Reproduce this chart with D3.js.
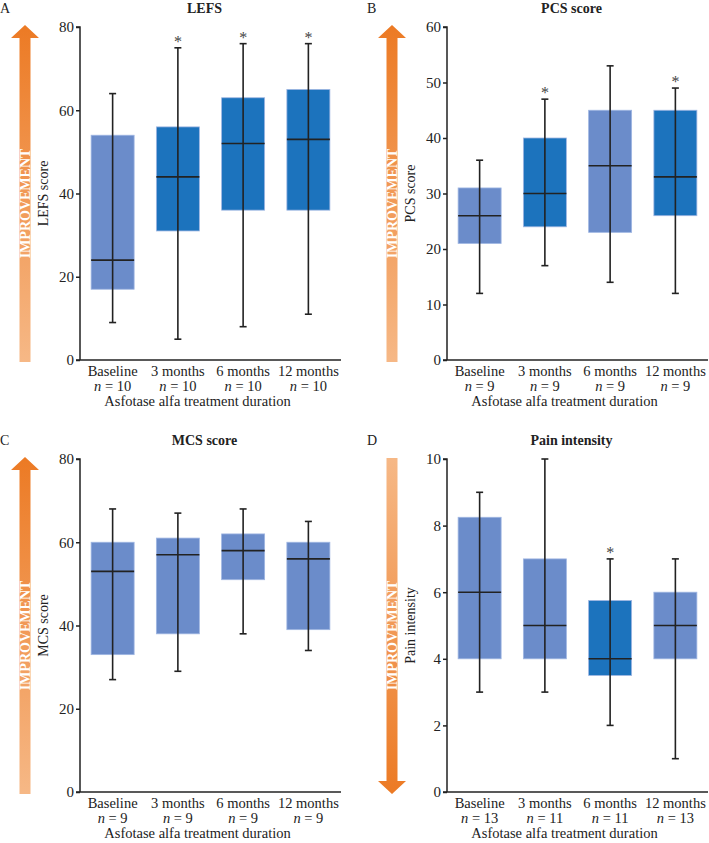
<!DOCTYPE html>
<html>
<head>
<meta charset="utf-8">
<script src="https://cdn.jsdelivr.net/npm/d3@7"></script>
<style>
  body { margin:0; background:#fff; }
  svg text { font-family:"Liberation Serif","Times New Roman",serif; fill:#222; }
</style>
</head>
<body>
<div id="chart"></div>
<script>
var categories=["Baseline","3 months","6 months","12 months"];

// [low whisker, q1, median, q3, high whisker]
var lefsStats=[[9,17,24,54,64],[5,31,44,56,75],[8,36,52,63,76],[11,36,53,65,76]];
var lefsN=["10","10","10","10"];
var lefsSig=[false,true,true,true];

var pcsStats=[[12,21,26,31,36],[17,24,30,40,47],[14,23,35,45,53],[12,26,33,45,49]];
var pcsN=["9","9","9","9"];
var pcsSig=[false,true,false,true];

var mcsStats=[[27,33,53,60,68],[29,38,57,61,67],[38,51,58,62,68],[34,39,56,60,65]];
var mcsN=["9","9","9","9"];
var mcsSig=[false,false,false,false];

var painStats=[[3,4,6,8.25,9],[3,4,5,7,10],[2,3.5,4,5.75,7],[1,4,5,6,7]];
var painN=["13","11","11"," 13"];
var painSig=[false,false,true,false];

var lightBlue="#6b8cca", darkBlue="#1c73bd";

var W=709, H=843;
var svg=d3.select("#chart").append("svg")
          .attr("width",W).attr("height",H);

var defs=svg.append("defs");
function grad(id, top, bottom){
  var g=defs.append("linearGradient").attr("id",id)
            .attr("x1",0).attr("y1",0).attr("x2",0).attr("y2",1);
  g.append("stop").attr("offset","0%").attr("stop-color",top);
  g.append("stop").attr("offset","100%").attr("stop-color",bottom);
}
grad("gradUp","#ec7a24","#f6b886");
grad("gradDown","#f6b886","#ec7a24");

function panel(opt){
  var g=svg.append("g").attr("transform","translate("+opt.x+","+opt.y+")");
  var plotH=333, plotW=261;

  var y=d3.scaleLinear().domain([0,opt.max]).range([plotH,0]);
  var x=d3.scalePoint().domain(categories).range([0,plotW]).padding(0.5);

  // panel letter and title
  svg.append("text")
     .attr("x",opt.x+opt.letterDx).attr("y",opt.y-14)
     .style("font-size","14px")
     .text(opt.letter);
  g.append("text")
     .attr("x",plotW/2-6).attr("y",-14)
     .attr("text-anchor","middle")
     .style("font-size","14px").style("font-weight","bold")
     .text(opt.title);

  // improvement arrow
  var ax=-55, sw=11, hw=28, hh=13;
  var pts;
  if(opt.up){
    pts=[[ax,-2],[ax+hw/2,hh-2],[ax+sw/2,hh-2],[ax+sw/2,plotH+2],[ax-sw/2,plotH+2],[ax-sw/2,hh-2],[ax-hw/2,hh-2]];
  } else {
    pts=[[ax-sw/2,-1],[ax+sw/2,-1],[ax+sw/2,plotH-11],[ax+hw/2,plotH-11],[ax,plotH+2],[ax-hw/2,plotH-11],[ax-sw/2,plotH-11]];
  }
  g.append("path")
   .attr("d",d3.line()(pts)+"Z")
   .attr("fill",opt.up?"url(#gradUp)":"url(#gradDown)");
  g.append("text")
   .attr("transform","translate("+(ax+5)+","+(plotH/2+10)+") rotate(-90)")
   .attr("text-anchor","middle")
   .style("font-size","14px").style("font-weight","bold")
   .style("fill","#fff")
   .text("IMPROVEMENT");

  // y label
  g.append("text")
   .attr("transform","translate(-32,"+(plotH/2)+") rotate(-90)")
   .attr("text-anchor","middle")
   .style("font-size","14px")
   .text(opt.ylabel);

  // boxes
  var bw=43;
  var boxes=g.selectAll(".box").data(opt.stats).enter().append("g")
             .attr("class","box")
             .attr("transform",function(d,i){return "translate("+x(categories[i])+",0)";});
  boxes.append("rect")
       .attr("x",-bw/2).attr("width",bw)
       .attr("y",function(d){return y(d[3]);})
       .attr("height",function(d){return y(d[1])-y(d[3]);})
       .attr("fill",function(d,i){return opt.sig[i]?darkBlue:lightBlue;})
       .attr("stroke","#9fb6e2").attr("stroke-width",0.8);
  boxes.append("line")
       .attr("x1",0).attr("x2",0)
       .attr("y1",function(d){return y(d[0]);})
       .attr("y2",function(d){return y(d[4]);})
       .attr("stroke","#222").attr("stroke-width",1.6);
  [0,4].forEach(function(k){
    boxes.append("line")
         .attr("x1",-3.5).attr("x2",3.5)
         .attr("y1",function(d){return y(d[k]);})
         .attr("y2",function(d){return y(d[k]);})
         .attr("stroke","#222").attr("stroke-width",1.6);
  });
  boxes.append("line")
       .attr("x1",-bw/2).attr("x2",bw/2)
       .attr("y1",function(d){return y(d[2]);})
       .attr("y2",function(d){return y(d[2]);})
       .attr("stroke","#222").attr("stroke-width",1.6);
  boxes.filter(function(d,i){return opt.sig[i];})
       .append("text")
       .attr("x",0).attr("y",function(d){return y(d[4])-1;})
       .attr("text-anchor","middle")
       .style("font-size","16px")
       .style("fill","#444")
       .text("*");

  // axes
  var yAxis=d3.axisLeft(y).tickValues(opt.ticks).tickSize(4).tickPadding(2);
  var ya=g.append("g").call(yAxis);
  ya.select(".domain").attr("stroke","#222").attr("stroke-width",1.5).attr("d","M-4,0H0V"+plotH);
  ya.selectAll(".tick line").attr("stroke","#222").attr("stroke-width",1.5);
  ya.selectAll(".tick text").style("font-size","15px").style("font-family","Liberation Serif").attr("fill","#222");

  g.append("line")
   .attr("x1",-4).attr("x2",plotW)
   .attr("y1",plotH).attr("y2",plotH)
   .attr("stroke","#222").attr("stroke-width",1.5);

  var xl=g.selectAll(".xl").data(categories).enter().append("g")
          .attr("transform",function(d){return "translate("+x(d)+","+plotH+")";});
  xl.append("text").attr("y",16).attr("text-anchor","middle")
    .style("font-size","14.5px").text(function(d){return d;});
  xl.append("text").attr("y",31).attr("text-anchor","middle")
    .style("font-size","14.5px")
    .each(function(d,i){
      var t=d3.select(this);
      t.append("tspan").style("font-style","italic").text("n");
      t.append("tspan").text(" = "+opt.n[i]);
    });
  g.append("text")
   .attr("x",plotW/2-13).attr("y",plotH+46)
   .attr("text-anchor","middle")
   .style("font-size","14.5px")
   .text("Asfotase alfa treatment duration");
}

panel({x:80,y:27,max:80,ticks:[0,20,40,60,80],stats:lefsStats,n:lefsN,sig:lefsSig,
       title:"LEFS",ylabel:"LEFS score",letter:"A",letterDx:-80,up:true});
panel({x:447,y:27,max:60,ticks:[0,10,20,30,40,50,60],stats:pcsStats,n:pcsN,sig:pcsSig,
       title:"PCS score",ylabel:"PCS score",letter:"B",letterDx:-80,up:true});
panel({x:80,y:459,max:80,ticks:[0,20,40,60,80],stats:mcsStats,n:mcsN,sig:mcsSig,
       title:"MCS score",ylabel:"MCS score",letter:"C",letterDx:-80,up:true});
panel({x:447,y:459,max:10,ticks:[0,2,4,6,8,10],stats:painStats,n:painN,sig:painSig,
       title:"Pain intensity",ylabel:"Pain intensity",letter:"D",letterDx:-80,up:false});
</script>
</body>
</html>
